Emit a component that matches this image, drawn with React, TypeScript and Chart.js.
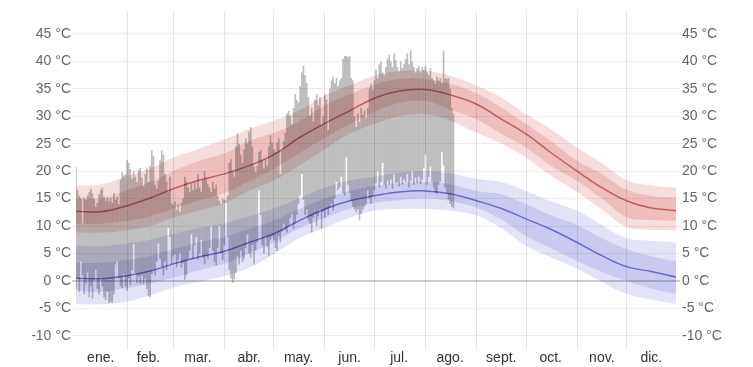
import { useEffect, useRef } from 'react';
import { Chart, registerables } from 'chart.js';
Chart.register(...registerables);

const monthStarts = [31, 59, 90, 120, 151, 181, 212, 243, 273, 304, 334];
const monthMids = [15, 44, 74, 105, 135, 166, 196, 227, 258, 288, 319, 349];
const monthLabels = ['ene.', 'feb.', 'mar.', 'abr.', 'may.', 'jun.', 'jul.', 'ago.', 'sept.', 'oct.', 'nov.', 'dic.'];
const yTicks = [-10, -5, 0, 5, 10, 15, 20, 25, 30, 35, 40, 45];

const sampleDays = [0, 15, 30, 45, 59, 74, 90, 105, 120, 135, 151, 166, 181, 196, 212, 227, 243, 258, 273, 288, 304, 319, 334, 349, 364];

const highP10 = [8.8, 8.8, 9.2, 10.0, 11.5, 12.8, 14.2, 16.4, 18.3, 21.0, 24.0, 26.8, 28.6, 30.0, 30.4, 29.2, 27.0, 25.0, 22.5, 19.2, 16.2, 13.0, 9.8, 9.3, 9.1];
const highP25 = [10.4, 10.4, 10.9, 11.8, 13.2, 14.6, 16.0, 18.2, 20.4, 23.2, 26.1, 28.6, 30.8, 32.4, 32.8, 31.2, 29.4, 26.8, 24.3, 21.0, 18.2, 15.0, 11.6, 11.1, 11.0];
const highAvg = [12.7, 12.6, 13.6, 15.1, 16.8, 18.3, 19.5, 21.0, 23.0, 26.0, 28.7, 31.0, 33.3, 34.6, 34.9, 33.9, 32.2, 29.5, 26.8, 23.4, 20.0, 17.0, 14.6, 13.3, 12.8];
const highP75 = [15.0, 15.0, 16.4, 18.0, 20.0, 21.8, 23.2, 25.5, 27.0, 29.0, 32.0, 34.0, 35.8, 36.8, 36.8, 35.9, 34.2, 31.6, 28.6, 25.5, 21.9, 19.5, 16.6, 15.5, 15.2];
const highP90 = [17.3, 17.6, 19.0, 20.5, 22.5, 24.0, 25.8, 27.7, 29.2, 31.0, 33.8, 35.6, 37.4, 38.2, 38.3, 37.4, 35.6, 33.4, 30.4, 27.7, 24.3, 21.5, 18.4, 17.4, 17.0];

const lowP10 = [-4.2, -4.3, -3.8, -2.6, -1.2, -0.2, 0.9, 2.4, 4.9, 7.7, 9.7, 11.5, 12.8, 13.1, 13.1, 12.8, 11.9, 9.6, 6.4, 4.3, 2.2, -0.2, -2.4, -3.4, -4.2];
const lowP25 = [-1.8, -2.0, -1.4, -0.5, 0.6, 1.9, 3.1, 5.0, 7.0, 9.5, 11.5, 13.1, 14.2, 14.7, 15.0, 14.5, 13.3, 11.2, 8.2, 6.0, 3.6, 1.6, 0.0, -1.4, -2.4];
const lowAvg = [0.5, 0.4, 0.9, 1.8, 3.1, 4.3, 5.4, 7.0, 8.6, 10.9, 13.1, 14.6, 15.5, 16.2, 16.4, 15.9, 14.6, 13.2, 11.3, 9.4, 7.0, 4.6, 2.6, 1.7, 0.7];
const lowP75 = [3.3, 3.3, 3.8, 4.6, 5.8, 7.0, 8.0, 9.5, 11.0, 13.0, 15.0, 16.4, 17.3, 17.8, 18.0, 17.6, 16.4, 15.8, 14.0, 12.0, 10.2, 7.8, 5.8, 4.5, 3.6];
const lowP90 = [6.4, 6.3, 6.8, 7.5, 8.6, 9.6, 10.5, 11.8, 13.2, 15.0, 17.0, 18.3, 19.0, 19.7, 20.0, 19.6, 18.6, 18.0, 16.4, 14.5, 12.8, 10.2, 7.8, 7.3, 7.0];

const dailyHigh = [
  20.8, 16.5, 15.5, 15.0, 10.5, 15.2, 14.8, 15.5, 16.2, 16.8,
  16.0, 15.0, 13.5, 14.2, 15.8, 16.6, 17.0, 15.4, 14.6, 15.2,
  14.5, 15.0, 14.2, 16.0, 14.8, 15.3, 14.0, 18.5, 19.8, 19.2,
  19.5, 22.0, 21.5, 20.4, 18.6, 20.0, 19.0, 18.0, 20.2, 20.6,
  18.8, 17.2, 19.5, 20.5, 18.0, 21.0, 23.8, 22.8, 17.5, 16.8,
  18.2, 22.0, 23.8, 23.0, 19.5, 18.0, 16.2, 19.0, 14.2, 13.8,
  14.5, 13.0, 14.0, 12.6, 14.3, 15.0, 19.0, 18.2, 17.0, 16.2,
  17.8, 16.5, 18.0, 16.8, 19.5, 17.0, 16.2, 18.4, 20.0, 18.6,
  17.6, 17.0, 16.2, 18.0, 16.8, 17.5, 15.5, 14.6, 14.0, 15.0,
  14.8, 14.2, 15.5, 21.5, 22.2, 20.0, 19.0, 24.5, 26.8, 25.0,
  23.0, 21.5, 24.0, 26.0, 25.0, 27.2, 28.0, 24.5, 20.8, 19.8,
  21.0, 23.5, 23.8, 22.0, 20.5, 22.2, 21.0, 24.5, 26.5, 25.2,
  24.0, 23.5, 25.2, 26.0, 19.5, 23.8, 25.5, 27.0, 30.5, 31.0,
  30.0, 28.5, 31.5, 34.0, 33.0, 32.5, 35.5, 38.0, 39.2, 37.5,
  36.0, 33.5, 30.0, 31.5, 29.0, 33.0, 34.0, 32.0, 33.5, 28.5,
  30.0, 34.0, 33.0, 27.5, 35.0, 36.5, 37.2, 36.0, 37.0, 35.5,
  36.5, 37.0, 40.5, 41.0, 41.0, 40.8, 41.0, 37.0, 36.5, 30.0,
  28.0, 30.5, 29.0, 31.5, 30.2, 31.0, 29.8, 31.5, 35.0, 36.0,
  34.8, 36.5, 38.5, 37.0, 39.5, 40.0, 38.0, 37.5, 39.0, 40.5,
  41.2, 40.0, 39.0, 41.5, 40.2, 39.0, 38.2, 40.0, 38.8, 39.5,
  40.5, 41.5, 39.5, 42.0, 40.0, 39.0, 38.0, 38.8, 39.2, 38.0,
  39.0, 38.5, 39.2, 38.0, 37.5, 38.8, 37.0, 36.5, 36.0, 37.2,
  36.5, 37.0, 36.0, 42.0, 37.0, 36.8, 37.0, 35.0, 31.5, 30.5,
];

const dailyLow = [
  -1.5, 0.5, -2.0, 3.5, 1.0, -2.4, -0.5, 1.5, -3.0, -1.0,
  -3.2, 0.2, 2.0, -1.5, -2.5, 0.5, -1.0, -3.0, -3.5, -2.0,
  -4.0, -3.8, -4.0, -2.5, 3.0, 3.6, 0.5, -1.0, -1.3, 1.2,
  -1.0, -1.8, 0.5, -0.8, 2.0, 6.7, 1.5, -0.5, 0.8, -0.6,
  1.0, -0.6, 0.5, -1.5, -2.8, -3.0, 1.2, 2.0, 1.0, 3.5,
  6.8, 4.0, 2.5, 1.0, 3.5, 2.0, 9.7, 8.0, 3.0, 4.5,
  4.8, 2.5, 3.8, 5.0, 2.4, 3.2, 0.0, 1.0, 4.0, 5.5,
  8.5, 4.0, 6.5, 8.0, 3.8, 5.0, 7.5, 4.2, 3.0, 4.5,
  4.0, 6.0, 10.0, 5.5, 3.5, 2.8, 6.0, 10.0, 5.0, 3.8,
  6.5, 14.6, 8.0, 2.0, 0.5, -0.4, 0.3, 1.5, 4.5, 3.0,
  5.5, 3.5, 4.0, 6.0, 8.5, 5.0, 4.2, 6.5, 3.0, 5.5,
  7.0, 16.5, 12.0, 6.5, 5.0, 8.0, 6.2, 4.5, 7.5, 8.0,
  7.5, 6.0, 5.5, 8.2, 7.0, 9.0, 10.4, 9.2, 8.8, 10.0,
  11.5, 12.2, 9.5, 10.5, 12.0, 14.0, 15.5, 19.5, 14.8, 12.0,
  13.0, 11.0, 10.4, 8.8, 11.5, 12.2, 10.0, 11.8, 13.0, 9.5,
  12.5, 11.5, 13.0, 12.0, 13.3, 14.0, 12.8, 15.0, 18.0, 16.5,
  17.0, 19.0, 16.0, 15.5, 22.5, 17.5, 16.0, 14.5, 13.5, 13.0,
  12.5, 13.0, 11.0, 12.2, 13.0, 13.5, 14.0, 16.5, 15.0, 14.0,
  15.5, 16.5, 17.8, 20.0, 17.0, 18.0, 21.5, 17.5, 16.8, 18.2,
  17.5, 18.5, 16.8, 19.5, 17.8, 18.0, 17.2, 19.0, 17.5, 18.5,
  18.0, 19.5, 17.0, 18.2, 20.0, 17.5, 18.8, 17.8, 19.0, 17.6,
  18.5, 20.5, 23.0, 17.5, 19.0, 20.8, 18.0, 17.0, 16.0, 15.8,
  17.5, 18.0, 23.5, 21.0, 17.0, 16.0, 14.8, 14.0, 13.5, 13.2,
];

const FONT = 'Liberation Sans, Arial, Helvetica, sans-serif';

const multiplyPlugin = {
  id: 'multiplyDatasets',
  beforeDatasetsDraw(chart: any) {
    chart.ctx.save();
    chart.ctx.globalCompositeOperation = 'multiply';
  },
  afterDatasetsDraw(chart: any) {
    chart.ctx.restore();
  },
};

export default function App() {
  const ref = useRef<HTMLCanvasElement>(null);

  useEffect(() => {
    if (!ref.current) return;
    const pts = (arr: number[]) => sampleDays.map((d, i) => ({ x: d, y: arr[i] }));
    const line = (arr: number[], opts: any) => ({
      type: 'line' as const,
      data: pts(arr),
      pointRadius: 0,
      borderWidth: 0,
      tension: 0.4,
      fill: false,
      ...opts,
    });
    const redBand = 'rgba(205,70,70,0.19)';
    const blueBand = 'rgba(70,70,210,0.15)';

    const allTicks = [...monthStarts, ...monthMids].sort((a, b) => a - b);

    const yAxis = (position: 'left' | 'right', width: number, pad: number, onArea: boolean) => ({
      type: 'linear' as const,
      position,
      min: -12.6,
      max: 49.3,
      afterBuildTicks: (s: any) => {
        s.ticks = yTicks.map((v) => ({ value: v }));
      },
      afterFit: (s: any) => {
        s.width = width;
      },
      border: { display: false },
      grid: {
        drawOnChartArea: onArea,
        tickLength: 4,
        color: (ctx: any) => (ctx.tick && ctx.tick.value === 0 ? 'rgba(0,0,0,0.2)' : 'rgba(0,0,0,0.07)'),
        lineWidth: (ctx: any) => (ctx.tick && ctx.tick.value === 0 ? 2 : 1),
      },
      ticks: {
        padding: pad,
        color: '#666',
        font: { family: FONT, size: 14 },
        callback: (v: any) => `${v} °C`,
      },
    });

    const chart = new Chart(ref.current, {
      type: 'bar',
      data: {
        datasets: [
          line(highAvg, { borderWidth: 1.5, borderColor: 'rgba(190,80,80,0.75)', order: 0 }),
          line(highP75, { fill: '+1', backgroundColor: redBand, order: 1 }),
          line(highP25, { order: 1 }),
          line(highP90, { fill: '+1', backgroundColor: redBand, order: 2 }),
          line(highP10, { order: 2 }),
          line(lowAvg, { borderWidth: 1.5, borderColor: 'rgba(90,90,200,0.75)', order: 0 }),
          line(lowP75, { fill: '+1', backgroundColor: blueBand, order: 1 }),
          line(lowP25, { order: 1 }),
          line(lowP90, { fill: '+1', backgroundColor: blueBand, order: 2 }),
          line(lowP10, { order: 2 }),
          {
            type: 'bar' as const,
            data: dailyHigh.map((h, i) => ({ x: i, y: [dailyLow[i], h] })) as any,
            backgroundColor: 'rgb(189,189,189)',
            borderWidth: 0,
            barPercentage: 1,
            categoryPercentage: 1,
            inflateAmount: 0,
            order: 10,
          },
        ] as any,
      },
      options: {
        animation: false,
        responsive: true,
        maintainAspectRatio: false,
        layout: { padding: { top: 10, left: 0, right: 0, bottom: 0 } },
        plugins: { legend: { display: false }, tooltip: { enabled: false } },
        scales: {
          x: {
            type: 'linear',
            offset: false,
            min: 0,
            max: 364,
            afterBuildTicks: (s: any) => {
              s.ticks = allTicks.map((v) => ({ value: v }));
            },
            afterFit: (s: any) => {
              s.height = 17;
            },
            border: { display: false },
            grid: {
              offset: false,
              drawTicks: false,
              color: (ctx: any) =>
                ctx.tick && monthStarts.includes(ctx.tick.value) ? 'rgba(0,0,0,0.1)' : 'rgba(0,0,0,0)',
            },
            ticks: {
              autoSkip: false,
              maxRotation: 0,
              padding: 0,
              color: '#333',
              font: { family: FONT, size: 14 },
              callback: (v: any) => {
                const i = monthMids.indexOf(v);
                return i >= 0 ? monthLabels[i] : '';
              },
            },
          },
          y: yAxis('left', 76, 1, true),
          y2: yAxis('right', 77, 2, false),
        } as any,
      },
      plugins: [multiplyPlugin],
    });
    return () => chart.destroy();
  }, []);

  return (
    <div style={{ position: 'fixed', left: 0, top: 0, width: 753, height: 367, background: '#fff' }}>
      <canvas ref={ref} />
    </div>
  );
}
